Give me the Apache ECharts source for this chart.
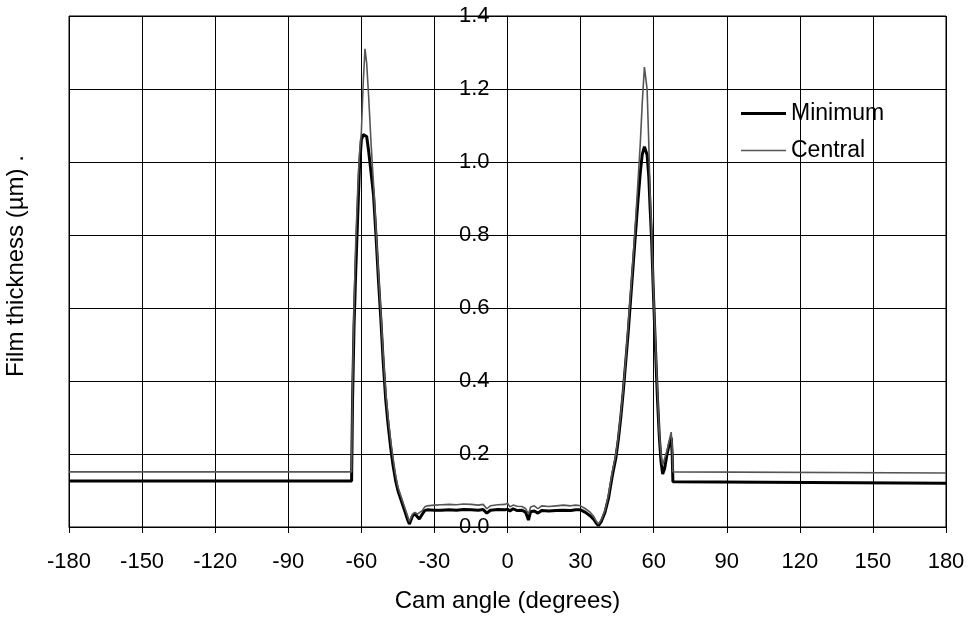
<!DOCTYPE html>
<html>
<head>
<meta charset="utf-8">
<script src="https://cdn.jsdelivr.net/npm/echarts@6/dist/echarts.min.js"></script>
<style>html,body{margin:0;padding:0;background:#fff}#c{width:970px;height:621px}</style>
</head>
<body>
<div id="c"></div>
<script>
const angle = [-180,-64,-63.6,-63,-62.3,-61.5,-60.8,-60,-59.2,-58.5,-57.8,-57,-56,-55,-54,-53,-52,-51,-50,-49,-48,-47,-46,-45,-44,-43,-42,-41,-40.3,-39,-38,-37,-36.2,-35,-34,-33,-30,-27,-24,-21,-18,-15,-12,-10,-8.5,-7,-4,-1,0,1,2.3,4,6,7.5,8.6,9.5,11,12.5,14,17,20,23,26,28,30,32,34,35.5,36.5,37.3,38.5,40,41.5,43,44.5,45.5,46.5,47.5,48.5,49.5,50.5,51.5,52.5,53.5,54.5,55.3,56.2,56.7,57.3,58,58.5,59.2,60,60.8,61.5,62.3,63,63.7,64.5,65.5,66.5,67.2,67.6,67.9,180];
const minimum = [0.126,0.126,0.35,0.55,0.70,0.85,0.98,1.06,1.075,1.08,1.07,1.03,0.97,0.91,0.80,0.68,0.57,0.45,0.35,0.28,0.22,0.17,0.13,0.10,0.08,0.06,0.04,0.02,0.008,0.03,0.037,0.028,0.022,0.035,0.045,0.047,0.046,0.046,0.047,0.046,0.048,0.047,0.046,0.048,0.038,0.046,0.048,0.047,0.049,0.044,0.05,0.045,0.046,0.04,0.019,0.042,0.044,0.038,0.045,0.044,0.045,0.046,0.045,0.047,0.047,0.04,0.03,0.02,0.01,0.004,0.015,0.04,0.08,0.14,0.19,0.24,0.30,0.37,0.45,0.53,0.62,0.71,0.80,0.89,0.97,1.02,1.042,1.04,1.02,0.96,0.88,0.78,0.62,0.48,0.36,0.25,0.18,0.145,0.16,0.20,0.23,0.245,0.20,0.124,0.12];
const central = [0.151,0.151,0.40,0.60,0.78,0.92,1.02,1.08,1.22,1.31,1.27,1.18,1.05,0.94,0.82,0.70,0.59,0.47,0.37,0.30,0.24,0.19,0.145,0.11,0.09,0.07,0.05,0.03,0.015,0.035,0.04,0.035,0.033,0.045,0.055,0.058,0.06,0.061,0.062,0.061,0.063,0.062,0.060,0.062,0.05,0.058,0.061,0.062,0.065,0.055,0.06,0.057,0.056,0.05,0.035,0.055,0.058,0.05,0.058,0.056,0.058,0.060,0.058,0.06,0.058,0.05,0.04,0.028,0.015,0.008,0.02,0.045,0.09,0.15,0.20,0.25,0.31,0.38,0.46,0.55,0.64,0.73,0.83,0.94,1.05,1.16,1.26,1.265,1.20,1.05,0.92,0.80,0.63,0.50,0.38,0.26,0.20,0.17,0.175,0.21,0.24,0.26,0.22,0.151,0.148];
const xTicks = {min: -180, max: 180, step: 30};
const yTicks = {min: 0, max: 1.4, step: 0.2};
const seriesNames = ['Minimum', 'Central'];

const font = 'Liberation Sans, Arial, sans-serif';
const gridLeft = 69, gridRight = 24, W = 970;
const zeroOffset = -((W - gridLeft - gridRight) * (0 - xTicks.min) / (xTicks.max - xTicks.min));
const chart = echarts.init(document.getElementById('c'), null, {renderer: 'canvas'});
const pair = (a) => angle.map((x, i) => [x, a[i]]);
chart.setOption({
  animation: false,
  backgroundColor: '#fff',
  grid: {left: gridLeft, right: gridRight, top: 16, bottom: 94, show: true, borderColor: '#000', borderWidth: 1},
  legend: {
    orient: 'vertical', left: 741, top: 102, padding: 0, itemWidth: 45, itemHeight: 14, itemGap: 14,
    symbolKeepAspect: true,
    textStyle: {fontFamily: font, fontSize: 23, color: '#000'},
    data: [
      {name: seriesNames[0], icon: 'path://M0 0H45V3H0Z', itemStyle: {color: '#000'}},
      {name: seriesNames[1], icon: 'path://M0 0H45V1.6H0Z', itemStyle: {color: '#555'}}
    ]
  },
  xAxis: {
    type: 'value', min: xTicks.min, max: xTicks.max, interval: xTicks.step,
    name: 'Cam angle (degrees)', nameLocation: 'middle', nameGap: 62,
    nameTextStyle: {fontFamily: font, fontSize: 24, color: '#000'},
    axisLine: {lineStyle: {color: '#000', width: 1}},
    axisTick: {show: true, length: 6, lineStyle: {color: '#000'}},
    axisLabel: {fontFamily: font, fontSize: 22, color: '#000', margin: 24},
    splitLine: {show: true, lineStyle: {color: '#000', width: 1}}
  },
  yAxis: {
    type: 'value', min: yTicks.min, max: yTicks.max, interval: yTicks.step,
    position: 'left', offset: zeroOffset,
    axisLine: {onZero: false, lineStyle: {color: '#000', width: 1}},
    axisTick: {show: true, length: 5, lineStyle: {color: '#000'}},
    axisLabel: {fontFamily: font, fontSize: 22, color: '#000', margin: 18, formatter: v => v.toFixed(1)},
    splitLine: {show: true, lineStyle: {color: '#000', width: 1}}
  },
  graphic: [{
    type: 'text', x: 16, y: 266, rotation: Math.PI / 2,
    style: {text: 'Film thickness (µm) .', font: '24px ' + font, fill: '#000', align: 'center', verticalAlign: 'middle'}
  }],
  series: [
    {name: seriesNames[0], type: 'line', symbol: 'none', data: pair(minimum), lineStyle: {color: '#000', width: 3}, itemStyle: {color: '#000'}, z: 3},
    {name: seriesNames[1], type: 'line', symbol: 'none', data: pair(central), lineStyle: {color: '#555', width: 1.6}, itemStyle: {color: '#555'}, z: 4}
  ]
});
</script>
</body>
</html>
